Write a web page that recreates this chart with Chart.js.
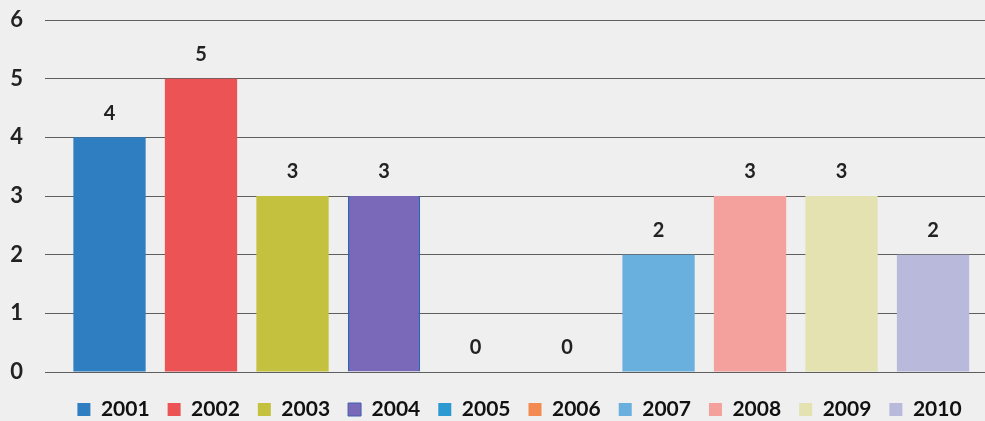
<!DOCTYPE html>
<html>
<head>
<meta charset="utf-8">
<script src="https://cdn.jsdelivr.net/npm/chart.js@4.4.1/dist/chart.umd.min.js"></script>
<style>
  html, body { margin: 0; padding: 0; background: #efefef; overflow: hidden; }
  #yearsChart { display: block; }
</style>
</head>
<body>
<canvas id="yearsChart" width="1039" height="430"></canvas>
<script>
const years = ['2001', '2002', '2003', '2004', '2005', '2006', '2007', '2008', '2009', '2010'];
const counts = [4, 5, 3, 3, 0, 0, 2, 3, 3, 2];
const barColors = ['#2f7ec1', '#ec5354', '#c4c13e', '#7a68b8', '#2a9ad0', '#f28a52', '#6ab0de', '#f4a09c', '#e4e2b0', '#b9b9dc'];
const yTicks = [0, 1, 2, 3, 4, 5, 6];

const FONT = 'Lato, "Open Sans", sans-serif';

// value printed above each bar
const valueLabels = {
  id: 'valueLabels',
  afterDatasetsDraw(chart) {
    const { ctx } = chart;
    ctx.save();
    ctx.font = 'bold 20px ' + FONT;
    ctx.fillStyle = '#222';
    ctx.textAlign = 'center';
    ctx.textBaseline = 'middle';
    chart.data.datasets.forEach((ds, i) => {
      chart.getDatasetMeta(i).data.forEach((bar, j) => {
        ctx.fillText(String(ds.data[j].y), bar.x, bar.y - 24);
      });
    });
    ctx.restore();
  }
};

// one dataset per year so each gets its own legend entry
const datasets = years.map((year, i) => ({
  label: year,
  data: [{ x: i, y: counts[i] }],
  backgroundColor: barColors[i],
  // 2004 has a darker blue edge
  borderColor: '#3f5fae',
  borderWidth: i === 3 ? { left: 2, right: 2, top: 0, bottom: 0 } : 0,
  grouped: false,
  barPercentage: 0.79,
  categoryPercentage: 1
}));

new Chart(document.getElementById('yearsChart'), {
  type: 'bar',
  data: { datasets },
  plugins: [valueLabels],
  options: {
    responsive: false,
    animation: false,
    layout: { padding: { top: 20, right: 0, left: 0, bottom: 0 } },
    scales: {
      x: {
        type: 'linear',
        offset: false,
        min: -0.705,
        max: 10.158,
        border: { display: false },
        grid: { display: false },
        ticks: { stepSize: 1, includeBounds: false, display: false },
        afterFit(axis) { axis.height = 9; }
      },
      y: {
        min: yTicks[0],
        max: yTicks[yTicks.length - 1],
        border: { display: false },
        grid: { color: '#5e5e5e', lineWidth: 1, tickLength: 22, tickColor: 'transparent' },
        ticks: {
          stepSize: 1,
          padding: 0,
          color: '#222',
          font: { family: FONT, size: 22, weight: 'bold' }
        },
        afterFit(axis) { axis.width = 45; }
      }
    },
    plugins: {
      tooltip: { enabled: false },
      legend: {
        position: 'bottom',
        labels: {
          boxWidth: 13,
          boxHeight: 13,
          padding: 18,
          color: '#111',
          font: { family: FONT, size: 21, weight: 'bold' }
        }
      }
    }
  }
});
</script>
</body>
</html>
